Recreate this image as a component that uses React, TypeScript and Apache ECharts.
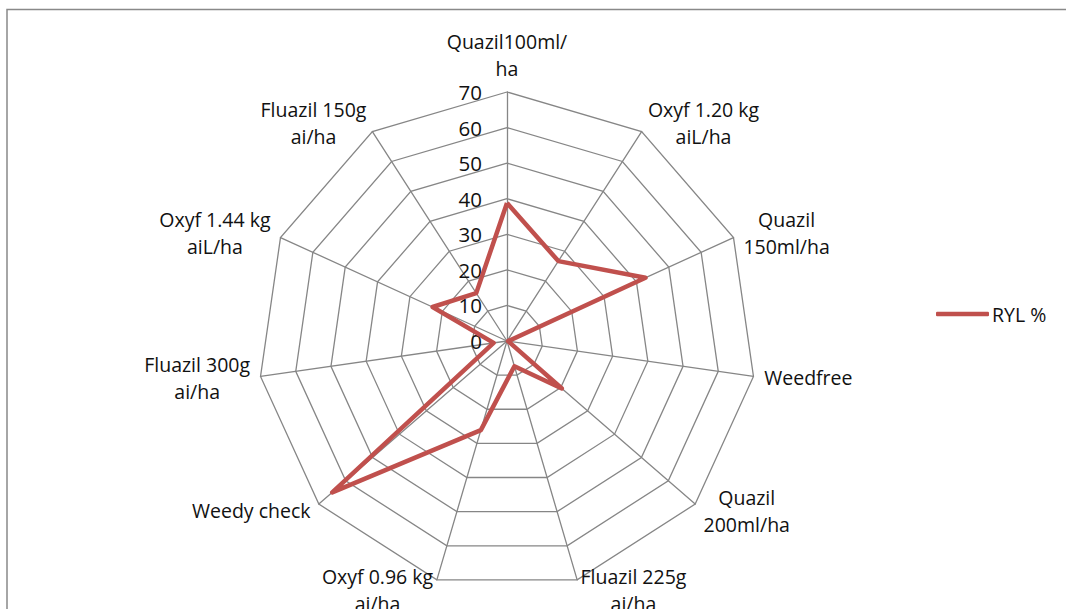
import React, { useEffect, useRef } from "react";
import * as echarts from "echarts";

// Categories in Excel's clockwise order, starting at the top
const categories = [
  "Quazil100ml/\nha",
  "Oxyf 1.20 kg\naiL/ha",
  "Quazil\n150ml/ha",
  "Weedfree",
  "Quazil\n200ml/ha",
  "Fluazil 225g\nai/ha",
  "Oxyf 0.96 kg\nai/ha",
  "Weedy check",
  "Fluazil 300g\nai/ha",
  "Oxyf 1.44 kg\naiL/ha",
  "Fluazil 150g\nai/ha",
];
const rylValues = [38.8, 26.7, 42.8, 0.3, 20.4, 7.4, 26.1, 65, 3.8, 23, 16];
const seriesName = "RYL %";
const axisMax = 70;
const axisSplits = 7;

const FONT = "'Open Sans', 'Noto Sans', sans-serif";
const NAME_SIZE = 19.5;
const GRID = "#868686";
const RED = "#C0504D";
const TEXT = "#111111";

// ECharts lays indicators counter-clockwise; reverse all but the first to get clockwise
const order = [0, ...categories.slice(1).map((_, i) => categories.length - 1 - i)];

function measure(text: string): number {
  const c = document.createElement("canvas").getContext("2d")!;
  c.font = `${NAME_SIZE}px 'Open Sans'`;
  return Math.ceil(c.measureText(text).width) + 1;
}

export default function App() {
  const ref = useRef<HTMLDivElement>(null);
  useEffect(() => {
    document.body.style.margin = "0";
    const rich: Record<string, any> = {};
    categories.forEach((name, idx) => {
      const w = Math.max(...name.split("\n").map(measure));
      rich["c" + idx] = {
        width: w,
        align: "center",
        fontFamily: FONT,
        fontSize: NAME_SIZE,
        lineHeight: 27,
        color: TEXT,
      };
    });
    const chart = echarts.init(ref.current!, null, { renderer: "svg" });
    chart.setOption({
      animation: false,
      backgroundColor: "#ffffff",
      graphic: [
        {
          type: "rect",
          shape: { x: 7, y: 9.5, width: 1200, height: 800 },
          style: { fill: "none", stroke: "#898989", lineWidth: 1.5 },
          silent: true,
        },
      ],
      legend: {
        orient: "vertical",
        left: 931,
        top: 299,
        itemWidth: 53,
        itemHeight: 4.5,
        icon: "roundRect",
        data: [seriesName],
        textStyle: {
          fontFamily: FONT,
          fontSize: 19.5,
          color: TEXT,
          padding: [0, 0, 0, -2],
        },
      },
      radar: {
        center: [507, 341],
        radius: 249,
        startAngle: 90,
        shape: "polygon",
        splitNumber: axisSplits,
        nameGap: 10,
        axisName: {
          color: TEXT,
          fontFamily: FONT,
          fontSize: NAME_SIZE,
          lineHeight: 27,
          formatter: (name: string) => {
            const idx = categories.indexOf(name);
            return name
              .split("\n")
              .map((l) => `{c${idx}|${l}}`)
              .join("\n");
          },
          rich,
        },
        splitLine: { lineStyle: { color: GRID, width: 1.3 } },
        splitArea: { show: false },
        axisLine: { lineStyle: { color: GRID, width: 1.3 } },
        axisTick: { show: false },
        axisLabel: { show: false },
        indicator: order.map((i) => ({
          name: categories[i],
          min: 0,
          max: axisMax,
          ...(i === 0
            ? {
                axisLabel: {
                  show: true,
                  fontFamily: FONT,
                  fontSize: 20.5,
                  color: TEXT,
                  margin: 25,
                },
              }
            : {}),
        })),
      },
      series: [
        {
          type: "radar",
          name: seriesName,
          symbol: "none",
          lineStyle: { color: RED, width: 4.5 },
          itemStyle: { color: RED },
          data: [{ name: seriesName, value: order.map((i) => rylValues[i]) }],
        },
      ],
    });
    return () => chart.dispose();
  }, []);
  return <div ref={ref} style={{ width: 1066, height: 609 }} />;
}
